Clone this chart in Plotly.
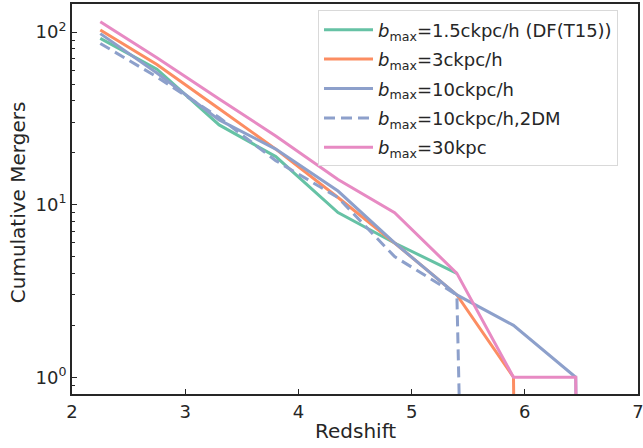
import plotly.graph_objects as go

# Redshift bins (shared x grid)
redshift = [2.25, 2.75, 3.3, 3.8, 4.35, 4.85, 5.4, 5.9, 6.45, 6.95]

# Cumulative mergers per model (0 = no mergers; None = not plotted)
mergers_b1p5 = [92, 61, 29, 19, 9, 6, 4, None, None, None]
mergers_b3 = [103, 65, 36, 21, 11, 6, 3, 1, 0, 0]
mergers_b10 = [98, 58, 31, 21, 12, 6, 3, 2, 1, 0]
mergers_b10_2dm = [86, 55, 32, 18, 11, 5, 3, 0, 0, 0]
mergers_b30 = [115, 71, 41, 25, 14, 9, 4, 1, 1, 0]

series_names = [
    "<i>b</i><sub>max</sub>=1.5ckpc/h (DF(T15))",
    "<i>b</i><sub>max</sub>=3ckpc/h",
    "<i>b</i><sub>max</sub>=10ckpc/h",
    "<i>b</i><sub>max</sub>=10ckpc/h,2DM",
    "<i>b</i><sub>max</sub>=30kpc",
]
series_values = [mergers_b1p5, mergers_b3, mergers_b10, mergers_b10_2dm, mergers_b30]
colors = ["#66c2a5", "#fc8d62", "#8da0cb", "#8da0cb", "#e78ac3"]
dashes = ["solid", "solid", "solid", "11px,6px", "solid"]

x_ticks = [2, 3, 4, 5, 6, 7]
y_tick_vals = [1, 10, 100]
y_tick_text = ["10<sup>0</sup>", "10<sup>1</sup>", "10<sup>2</sup>"]

# zeros are clipped to a tiny value on the log axis (drawn as a drop to the bottom)
LOG_FLOOR = 1e-30


def clip_for_log(vals):
    return [None if v is None else (LOG_FLOOR if v <= 0 else v) for v in vals]


fig = go.Figure()
for i, (name, vals, c, d) in enumerate(zip(series_names, series_values, colors, dashes)):
    fig.add_trace(go.Scatter(
        x=redshift, y=clip_for_log(vals), mode="lines", name=name,
        legendgroup=f"g{i}",
        line=dict(color=c, width=3, dash=d), connectgaps=False,
    ))

text_color = "#262626"
font_family = "DejaVu Sans"

minor_y = []
for dec in [0.1, 1, 10, 100]:
    for m in range(2, 10):
        minor_y.append(dec * m)

L, R, T, B = 72, 5, 3.5, 54
W, H = 643, 448
pw, ph = W - L - R, H - T - B

fig.update_layout(
    width=W, height=H,
    margin=dict(l=L, r=R, t=T, b=B, autoexpand=False),
    paper_bgcolor="white", plot_bgcolor="white",
    font=dict(family=font_family, size=18, color=text_color),
    showlegend=True,
    legend=dict(
        x=(318 - L) / pw, y=1 - (10 - T) / ph, xanchor="left", yanchor="top",
        bgcolor="rgba(255,255,255,0.8)", bordercolor="#d9d9d9", borderwidth=1,
        font=dict(family=font_family, size=18, color=text_color),
        tracegroupgap=3, itemwidth=49,
    ),
    xaxis=dict(
        range=[2, 7], tickvals=x_ticks, ticktext=[str(t) for t in x_ticks],
        ticks="inside", ticklen=5, tickwidth=1.2, tickcolor=text_color,
        showline=True, linecolor=text_color, linewidth=2, mirror=True,
        showgrid=False, zeroline=False, automargin=False,
        ticklabeloverflow="allow",
        tickfont=dict(size=18),
    ),
    yaxis=dict(
        type="log", range=[-0.097, 2.163],
        tickvals=y_tick_vals, ticktext=y_tick_text,
        ticks="inside", ticklen=5, tickwidth=1.2, tickcolor=text_color,
        showline=True, linecolor=text_color, linewidth=2, mirror=True,
        showgrid=False, zeroline=False, automargin=False,
        ticklabeloverflow="allow",
        minor=dict(tickvals=minor_y, ticks="inside", ticklen=3, tickwidth=1,
                   tickcolor=text_color, showgrid=False),
        tickfont=dict(size=18),
    ),
    annotations=[
        dict(text="Redshift", xref="paper", yref="paper",
             x=0.5, y=-(431 - (H - B)) / ph, xanchor="center", yanchor="middle",
             showarrow=False, font=dict(size=20, color=text_color)),
        dict(text="Cumulative Mergers", xref="paper", yref="paper",
             x=-(L - 18) / pw, y=1 - (202 - T) / ph, xanchor="center", yanchor="middle",
             textangle=-90, showarrow=False, font=dict(size=20, color=text_color)),
    ],
)

fig.write_html(
    "out.html",
    config={"displayModeBar": False},
    post_script="document.body.style.margin='0';document.body.style.overflow='hidden';",
)
